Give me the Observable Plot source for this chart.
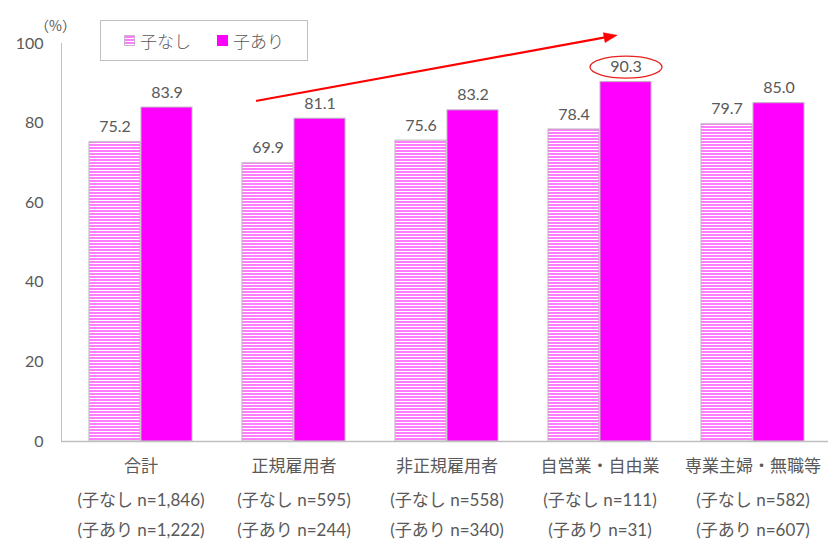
<!DOCTYPE html>
<html>
<head>
<meta charset="utf-8">
<script src="https://cdn.jsdelivr.net/npm/d3@7"></script>
<script src="https://cdn.jsdelivr.net/npm/@observablehq/plot@0.6"></script>
<style>
  html, body { margin: 0; padding: 0; background: #fff; }
  #wrap { position: relative; width: 828px; height: 541px; overflow: hidden; }
  #legend {
    position: absolute; left: 100px; top: 20px; width: 206px; height: 39px;
    border: 1px solid #bfbfbf; background: #fff;
    font-family: "Noto Sans CJK JP", sans-serif; font-size: 17px; font-weight: 300; color: #595959;
    display: flex; align-items: center;
  }
  #legend .item { display: flex; align-items: center; }
  #legend .sw { width: 11px; height: 11px; margin-right: 5px; box-sizing: border-box; }
  #legend .sw.stripe {
    background: repeating-linear-gradient(to bottom, #ff7cff 0px, #ff7cff 2px, #ffffff 2px, #ffffff 3px);
    border: 1px solid #c8b4c8;
  }
  #legend .sw.solid { background: #ff00ff; }
</style>
</head>
<body>
<div id="wrap">
  <div id="legend">
    <div class="item" style="margin-left:23px"><span class="sw stripe"></span><span>子なし</span></div>
    <div class="item" style="margin-left:26px"><span class="sw solid"></span><span>子あり</span></div>
  </div>
</div>
<script>
// Categories and series
const categories = ["合計", "正規雇用者", "非正規雇用者", "自営業・自由業", "専業主婦・無職等"];
const noChild = [75.2, 69.9, 75.6, 78.4, 79.7];     // 子なし
const withChild = [83.9, 81.1, 83.2, 90.3, 85.0];   // 子あり
const nNoChild = ["1,846", "595", "558", "111", "582"];
const nWithChild = ["1,222", "244", "340", "31", "607"];
const yTicks = [0, 20, 40, 60, 80, 100];

// Trend arrow anchored on two categories (value at each band centre), and the highlighted value
const arrowFrom = {cat: "正規雇用者", value: 87.3};
const arrowTo = {cat: "自営業・自由業", value: 101.3};
const highlight = {cat: "自営業・自由業", value: 90.3};

const rows = categories.map((cat, i) => ({
  cat, noChild: noChild[i], withChild: withChild[i],
  nNo: nNoChild[i], nWith: nWithChild[i]
}));

const grey = "#595959";
const red = "#ff0000";
const barStroke = "#bdb3bd";
const half = 52;

// Ellipse drawn as a custom dot symbol
const ellipse = {
  draw(ctx) {
    const rx = 36, ry = 11, k = 0.5523;
    ctx.moveTo(rx, 0);
    ctx.bezierCurveTo(rx, ry * k, rx * k, ry, 0, ry);
    ctx.bezierCurveTo(-rx * k, ry, -rx, ry * k, -rx, 0);
    ctx.bezierCurveTo(-rx, -ry * k, -rx * k, -ry, 0, -ry);
    ctx.bezierCurveTo(rx * k, -ry, rx, -ry * k, rx, 0);
    ctx.closePath();
  }
};

// Filled arrowhead with its tip at the origin, pointing along +x
const arrowHead = {
  draw(ctx) {
    ctx.moveTo(0, 0);
    ctx.lineTo(-13, -5);
    ctx.lineTo(-13, 5);
    ctx.closePath();
  }
};

const chart = Plot.plot({
  width: 828,
  height: 541,
  marginLeft: 61,
  marginRight: 0,
  marginTop: 43,
  marginBottom: 100,
  style: {fontFamily: "Lato, 'Noto Sans CJK JP', sans-serif", fontSize: "16px", color: grey, background: "#fff"},
  x: {domain: categories, range: [61, 832], paddingInner: 0.325, paddingOuter: 0.166, axis: null},
  y: {domain: [0, 100], axis: null},
  marks: [
    Plot.frame({anchor: "left", stroke: "#bfbfbf"}),
    Plot.axisY({ticks: yTicks, tickSize: 0, tickPadding: 18, fontSize: 16, fill: grey}),
    Plot.text(["（%）"], {frameAnchor: "top-left", textAnchor: "middle", dx: -6, dy: -22, fontSize: 14, fill: grey, fontFamily: "'Noto Sans CJK JP', sans-serif"}),
    Plot.barY(rows, {x: "cat", y: "noChild", insetRight: half, fill: "url(#stripes)", stroke: barStroke, strokeWidth: 1}),
    Plot.barY(rows, {x: "cat", y: "withChild", insetLeft: half, fill: "#ff00ff", stroke: barStroke, strokeWidth: 1}),
    Plot.ruleY([0], {stroke: "#bfbfbf", strokeWidth: 1.5}),
    Plot.text(rows, {x: "cat", y: "noChild", text: d => d.noChild.toFixed(1), dx: -half / 2, dy: -15, fontSize: 16, fill: grey}),
    Plot.text(rows, {x: "cat", y: "withChild", text: d => d.withChild.toFixed(1), dx: half / 2, dy: -15, fontSize: 16, fill: grey}),
    Plot.dot([highlight], {x: "cat", y: "value", dx: half / 2, dy: -15, symbol: ellipse, stroke: "#e8211f", strokeWidth: 1.3, fill: "none"}),
    Plot.arrow([{a: arrowFrom, b: arrowTo}], {
      x1: d => d.a.cat, y1: d => d.a.value, x2: d => d.b.cat, y2: d => d.b.value,
      insetStart: -37.6, insetEnd: -8, headLength: 0,
      stroke: red, strokeWidth: 2.2
    }),
    Plot.dot([arrowTo], {x: "cat", y: "value", dx: 17, dy: -3, symbol: arrowHead, rotate: -10.2, fill: red, stroke: red, strokeWidth: 0.5}),
    Plot.text(rows, {x: "cat", y: 0, text: "cat", dy: 25, fontSize: 17, fill: grey, fontFamily: "'Noto Sans CJK JP', sans-serif"}),
    Plot.text(rows, {x: "cat", y: 0, text: d => `(子なし n=${d.nNo})`, dy: 59, fontSize: 17, fill: grey}),
    Plot.text(rows, {x: "cat", y: 0, text: d => `(子あり n=${d.nWith})`, dy: 89, fontSize: 17, fill: grey})
  ]
});

// Horizontal-stripe fill for the 子なし bars
d3.select(chart).insert("defs", ":first-child").html(
  `<pattern id="stripes" patternUnits="userSpaceOnUse" width="8" height="3">
     <rect width="8" height="3" fill="#ffffff"/>
     <rect width="8" height="2" fill="#ff7cff"/>
   </pattern>`
);

document.getElementById("wrap").prepend(chart);
</script>
</body>
</html>
